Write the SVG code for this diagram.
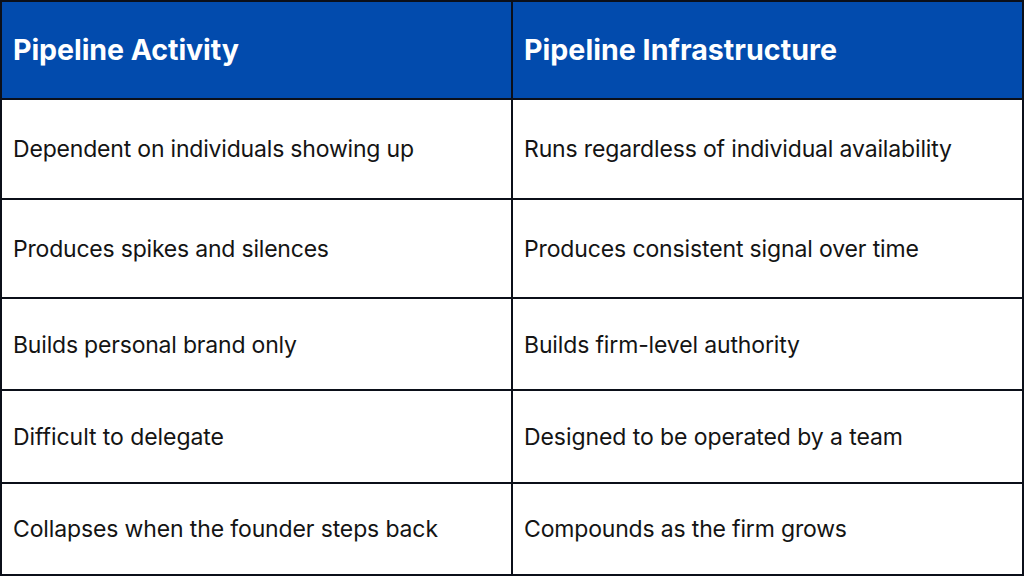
<svg xmlns="http://www.w3.org/2000/svg" width="1024" height="576" viewBox="0 0 1024 576">
<style>
text{font-family:Inter,"Liberation Sans",sans-serif;font-size:23px;fill:#141414;}
.h{font-size:28.6px;font-weight:700;fill:#fff;}
.l{stroke:#0b0f19;stroke-width:2;fill:none;}
</style>
<rect width="1024" height="576" fill="#fff"/>
<g id="header"><rect x="0" y="0" width="1024" height="98" fill="#024bad"/>
<text class="h" x="13" y="60" textLength="226">Pipeline Activity</text>
<text class="h" x="524" y="60" textLength="313">Pipeline Infrastructure</text></g>
<g id="grid">
<path class="l" d="M0 1H1024M0 99H1024M0 199H1024M0 298H1024M0 390H1024M0 483H1024M0 575H1024M1 0V576M512 0V576M1023 0V576"/>
</g>
<g id="rows">
<text x="13" y="157" textLength="401">Dependent on individuals showing up</text>
<text x="524" y="157" textLength="428">Runs regardless of individual availability</text>
<text x="13" y="257" textLength="316">Produces spikes and silences</text>
<text x="524" y="257" textLength="395">Produces consistent signal over time</text>
<text x="13" y="353" textLength="284">Builds personal brand only</text>
<text x="524" y="353" textLength="276">Builds firm-level authority</text>
<text x="13" y="445" textLength="211">Difficult to delegate</text>
<text x="524" y="445" textLength="379">Designed to be operated by a team</text>
<text x="13" y="537" textLength="425">Collapses when the founder steps back</text>
<text x="524" y="537" textLength="323">Compounds as the firm grows</text>
</g>
</svg>
